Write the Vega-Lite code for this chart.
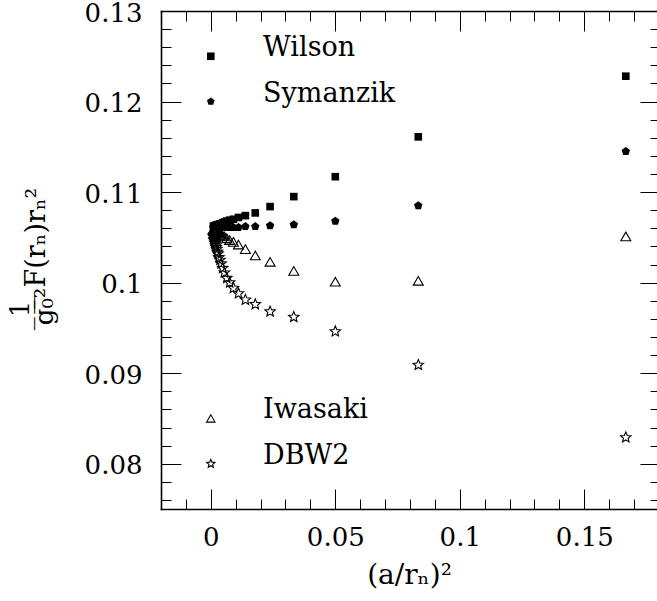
{
  "$schema": "https://vega.github.io/schema/vega-lite/v6.json",
  "width": 496,
  "height": 498,
  "autosize": "none",
  "padding": {"left": 161, "top": 11, "right": 0, "bottom": 92},
  "background": "white",
  "config": {
    "view": {"stroke": null},
    "font": "DejaVu Serif",
    "axis": {
      "grid": false,
      "domainColor": "black",
      "domainWidth": 1.6,
      "domainCap": "square",
      "tickColor": "black",
      "tickWidth": 1,
      "labelColor": "black",
      "labelFont": "DejaVu Serif",
      "labelFontSize": 26,
      "labelFlush": false,
      "labelOverlap": false,
      "labelBound": false,
      "titleColor": "black",
      "titleFont": "DejaVu Serif",
      "titleFontSize": 26,
      "titleFontWeight": "normal"
    }
  },
  "datasets": {
    "pts": [
      {"series": "Wilson", "x": 0.16667, "y": 0.1228},
      {"series": "Wilson", "x": 0.08333, "y": 0.1161},
      {"series": "Wilson", "x": 0.05, "y": 0.1117},
      {"series": "Wilson", "x": 0.03333, "y": 0.1095},
      {"series": "Wilson", "x": 0.02381, "y": 0.1084},
      {"series": "Wilson", "x": 0.01786, "y": 0.1077},
      {"series": "Wilson", "x": 0.01389, "y": 0.1074},
      {"series": "Wilson", "x": 0.01111, "y": 0.1072},
      {"series": "Wilson", "x": 0.00909, "y": 0.107},
      {"series": "Wilson", "x": 0.00758, "y": 0.1069},
      {"series": "Wilson", "x": 0.00641, "y": 0.1068},
      {"series": "Wilson", "x": 0.00549, "y": 0.1067},
      {"series": "Wilson", "x": 0.00476, "y": 0.1066},
      {"series": "Wilson", "x": 0.00417, "y": 0.1065},
      {"series": "Wilson", "x": 0.00368, "y": 0.1065},
      {"series": "Wilson", "x": 0.00327, "y": 0.1064},
      {"series": "Wilson", "x": 0.00292, "y": 0.1064},
      {"series": "Wilson", "x": 0.00263, "y": 0.1064},
      {"series": "Wilson", "x": 0.00238, "y": 0.1063},
      {"series": "Wilson", "x": 0.00216, "y": 0.1063},
      {"series": "Wilson", "x": 0.00198, "y": 0.1063},
      {"series": "Wilson", "x": 0.00181, "y": 0.1063},
      {"series": "Wilson", "x": 0.00167, "y": 0.1062},
      {"series": "Wilson", "x": 0.00154, "y": 0.1062},
      {"series": "Wilson", "x": 0.00142, "y": 0.1062},
      {"series": "Wilson", "x": 0.00132, "y": 0.1062},
      {"series": "Wilson", "x": 0.00123, "y": 0.1062},
      {"series": "Wilson", "x": 0.00115, "y": 0.1062},
      {"series": "Wilson", "x": 0.00108, "y": 0.1062},
      {"series": "Symanzik", "x": 0.16667, "y": 0.1145},
      {"series": "Symanzik", "x": 0.08333, "y": 0.1085},
      {"series": "Symanzik", "x": 0.05, "y": 0.1068},
      {"series": "Symanzik", "x": 0.03333, "y": 0.1064},
      {"series": "Symanzik", "x": 0.02381, "y": 0.1063},
      {"series": "Symanzik", "x": 0.01786, "y": 0.1062},
      {"series": "Symanzik", "x": 0.01389, "y": 0.1062},
      {"series": "Symanzik", "x": 0.01111, "y": 0.1061},
      {"series": "Symanzik", "x": 0.00909, "y": 0.1061},
      {"series": "Symanzik", "x": 0.00758, "y": 0.1061},
      {"series": "Symanzik", "x": 0.00641, "y": 0.1061},
      {"series": "Symanzik", "x": 0.00549, "y": 0.1061},
      {"series": "Symanzik", "x": 0.00476, "y": 0.1061},
      {"series": "Symanzik", "x": 0.00417, "y": 0.1061},
      {"series": "Symanzik", "x": 0.00368, "y": 0.1061},
      {"series": "Symanzik", "x": 0.00327, "y": 0.1061},
      {"series": "Symanzik", "x": 0.00292, "y": 0.1061},
      {"series": "Symanzik", "x": 0.00263, "y": 0.1061},
      {"series": "Symanzik", "x": 0.00238, "y": 0.1061},
      {"series": "Symanzik", "x": 0.00216, "y": 0.1061},
      {"series": "Symanzik", "x": 0.00198, "y": 0.1061},
      {"series": "Symanzik", "x": 0.00181, "y": 0.1061},
      {"series": "Symanzik", "x": 0.00167, "y": 0.1061},
      {"series": "Symanzik", "x": 0.00154, "y": 0.1061},
      {"series": "Symanzik", "x": 0.00142, "y": 0.1061},
      {"series": "Symanzik", "x": 0.00132, "y": 0.1061},
      {"series": "Symanzik", "x": 0.00123, "y": 0.1061},
      {"series": "Symanzik", "x": 0.00115, "y": 0.1061},
      {"series": "Symanzik", "x": 0.00108, "y": 0.1061},
      {"series": "Iwasaki", "x": 0.16667, "y": 0.1051},
      {"series": "Iwasaki", "x": 0.08333, "y": 0.1002},
      {"series": "Iwasaki", "x": 0.05, "y": 0.1001},
      {"series": "Iwasaki", "x": 0.03333, "y": 0.1013},
      {"series": "Iwasaki", "x": 0.02381, "y": 0.1023},
      {"series": "Iwasaki", "x": 0.01786, "y": 0.103},
      {"series": "Iwasaki", "x": 0.01389, "y": 0.1037},
      {"series": "Iwasaki", "x": 0.01111, "y": 0.1042},
      {"series": "Iwasaki", "x": 0.00909, "y": 0.1045},
      {"series": "Iwasaki", "x": 0.00758, "y": 0.1047},
      {"series": "Iwasaki", "x": 0.00641, "y": 0.1049},
      {"series": "Iwasaki", "x": 0.00549, "y": 0.1051},
      {"series": "Iwasaki", "x": 0.00476, "y": 0.1052},
      {"series": "Iwasaki", "x": 0.00417, "y": 0.1053},
      {"series": "Iwasaki", "x": 0.00368, "y": 0.1054},
      {"series": "Iwasaki", "x": 0.00327, "y": 0.1055},
      {"series": "Iwasaki", "x": 0.00292, "y": 0.1055},
      {"series": "Iwasaki", "x": 0.00263, "y": 0.1056},
      {"series": "Iwasaki", "x": 0.00238, "y": 0.1056},
      {"series": "Iwasaki", "x": 0.00216, "y": 0.1057},
      {"series": "Iwasaki", "x": 0.00198, "y": 0.1057},
      {"series": "Iwasaki", "x": 0.00181, "y": 0.1058},
      {"series": "Iwasaki", "x": 0.00167, "y": 0.1058},
      {"series": "Iwasaki", "x": 0.00154, "y": 0.1058},
      {"series": "Iwasaki", "x": 0.00142, "y": 0.1058},
      {"series": "Iwasaki", "x": 0.00132, "y": 0.1059},
      {"series": "Iwasaki", "x": 0.00123, "y": 0.1059},
      {"series": "Iwasaki", "x": 0.00115, "y": 0.1059},
      {"series": "Iwasaki", "x": 0.00108, "y": 0.1059},
      {"series": "DBW2", "x": 0.16667, "y": 0.0829},
      {"series": "DBW2", "x": 0.08333, "y": 0.0909},
      {"series": "DBW2", "x": 0.05, "y": 0.0946},
      {"series": "DBW2", "x": 0.03333, "y": 0.0962},
      {"series": "DBW2", "x": 0.02381, "y": 0.0968},
      {"series": "DBW2", "x": 0.01786, "y": 0.0976},
      {"series": "DBW2", "x": 0.01389, "y": 0.0981},
      {"series": "DBW2", "x": 0.01111, "y": 0.0988},
      {"series": "DBW2", "x": 0.00909, "y": 0.0994},
      {"series": "DBW2", "x": 0.00758, "y": 0.1},
      {"series": "DBW2", "x": 0.00641, "y": 0.1005},
      {"series": "DBW2", "x": 0.00549, "y": 0.1011},
      {"series": "DBW2", "x": 0.00476, "y": 0.1016},
      {"series": "DBW2", "x": 0.00417, "y": 0.1021},
      {"series": "DBW2", "x": 0.00368, "y": 0.1025},
      {"series": "DBW2", "x": 0.00327, "y": 0.1028},
      {"series": "DBW2", "x": 0.00292, "y": 0.1032},
      {"series": "DBW2", "x": 0.00263, "y": 0.1034},
      {"series": "DBW2", "x": 0.00238, "y": 0.1037},
      {"series": "DBW2", "x": 0.00216, "y": 0.1039},
      {"series": "DBW2", "x": 0.00198, "y": 0.1041},
      {"series": "DBW2", "x": 0.00181, "y": 0.1043},
      {"series": "DBW2", "x": 0.00167, "y": 0.1044},
      {"series": "DBW2", "x": 0.00154, "y": 0.1046},
      {"series": "DBW2", "x": 0.00142, "y": 0.1047},
      {"series": "DBW2", "x": 0.00132, "y": 0.1048},
      {"series": "DBW2", "x": 0.00123, "y": 0.105},
      {"series": "DBW2", "x": 0.00115, "y": 0.1051},
      {"series": "DBW2", "x": 0.00108, "y": 0.1052}
    ],
    "key": [
      {"series": "Wilson", "x": 0, "y": 0.125, "labelX": 0.021},
      {"series": "Symanzik", "x": 0, "y": 0.12, "labelX": 0.021},
      {"series": "Iwasaki", "x": 0, "y": 0.085, "labelX": 0.021},
      {"series": "DBW2", "x": 0, "y": 0.08, "labelX": 0.021}
    ]
  },
  "resolve": {
    "axis": {"x": "independent", "y": "independent"},
    "scale": {"size": "independent"}
  },
  "layer": [
    {
      "data": {"name": "pts"},
      "transform": [{"filter": "datum.series === 'Wilson' || datum.series === 'Symanzik'"}],
      "mark": {"type": "point", "filled": true, "color": "black", "opacity": 1},
      "encoding": {
        "x": {
          "field": "x", "type": "quantitative",
          "scale": {"domain": [-0.02, 0.1792], "nice": false, "zero": false},
          "axis": {"orient": "bottom", "values": [0, 0.05, 0.1, 0.15], "format": "~g", "tickSize": -20, "labelPadding": 35, "title": "(a/rₙ)²", "titleFontSize": 28, "titlePadding": 11}
        },
        "y": {
          "field": "y", "type": "quantitative",
          "scale": {"domain": [0.075, 0.13], "nice": false, "zero": false},
          "axis": {"orient": "left", "values": [0.08, 0.09, 0.1, 0.11, 0.12, 0.13], "format": "~g", "tickSize": -20, "labelPadding": 39, "labelOffset": 2, "title": "F(rₙ)rₙ²", "titleFontSize": 27, "titleAngle": -90, "titleAlign": "center", "titleBaseline": "alphabetic", "titleX": -117, "titleY": 226}
        },
        "shape": {
          "field": "series", "type": "nominal", "legend": null,
          "scale": {
            "domain": ["Wilson", "Symanzik", "Iwasaki", "DBW2"],
            "range": ["square", "M0,-1L0.951,-0.309L0.588,0.809L-0.588,0.809L-0.951,-0.309Z", "triangle-up", "M0,-1L0.265,-0.364L0.951,-0.309L0.428,0.139L0.588,0.809L0,0.45L-0.588,0.809L-0.428,0.139L-0.951,-0.309L-0.265,-0.364Z"]
          }
        },
        "size": {
          "field": "series", "type": "ordinal", "legend": null,
          "scale": {"domain": ["Wilson", "Symanzik", "Iwasaki", "DBW2"], "range": [58, 120, 95, 120]}
        }
      }
    },
    {
      "data": {"name": "pts"},
      "transform": [{"filter": "datum.series === 'Iwasaki' || datum.series === 'DBW2'"}],
      "mark": {"type": "point", "filled": false, "color": "black", "strokeWidth": 1.1, "opacity": 1},
      "encoding": {
        "x": {
          "field": "x", "type": "quantitative",
          "scale": {"domain": [-0.02, 0.1792], "nice": false, "zero": false},
          "axis": {"orient": "bottom", "values": [-0.01, 0.01, 0.02, 0.03, 0.04, 0.06, 0.07, 0.08, 0.09, 0.11, 0.12, 0.13, 0.14, 0.16, 0.17], "tickSize": -10, "labels": false, "domain": false, "title": null}
        },
        "y": {
          "field": "y", "type": "quantitative",
          "scale": {"domain": [0.075, 0.13], "nice": false, "zero": false},
          "axis": {"orient": "left", "values": [0.076, 0.078, 0.082, 0.084, 0.086, 0.088, 0.092, 0.094, 0.096, 0.098, 0.102, 0.104, 0.106, 0.108, 0.112, 0.114, 0.116, 0.118, 0.122, 0.124, 0.126, 0.128], "tickSize": -10, "labels": false, "domain": false, "title": ["\u2009\u03321\u0332\u2009\u0332", "g₀²"], "titleAngle": -90, "titleAlign": "center", "titleBaseline": "alphabetic", "titleLineHeight": 24, "titleX": -133, "titleY": 295}
        },
        "shape": {
          "field": "series", "type": "nominal", "legend": null,
          "scale": {
            "domain": ["Wilson", "Symanzik", "Iwasaki", "DBW2"],
            "range": ["square", "M0,-1L0.951,-0.309L0.588,0.809L-0.588,0.809L-0.951,-0.309Z", "triangle-up", "M0,-1L0.265,-0.364L0.951,-0.309L0.428,0.139L0.588,0.809L0,0.45L-0.588,0.809L-0.428,0.139L-0.951,-0.309L-0.265,-0.364Z"]
          }
        },
        "size": {
          "field": "series", "type": "ordinal", "legend": null,
          "scale": {"domain": ["Wilson", "Symanzik", "Iwasaki", "DBW2"], "range": [58, 120, 95, 120]}
        }
      }
    },
    {
      "data": {"name": "key"},
      "transform": [{"filter": "datum.series === 'Wilson' || datum.series === 'Symanzik'"}],
      "mark": {"type": "point", "filled": true, "color": "black", "opacity": 1},
      "encoding": {
        "x": {
          "field": "x", "type": "quantitative",
          "scale": {"domain": [-0.02, 0.1792], "nice": false, "zero": false},
          "axis": {"orient": "top", "values": [0, 0.05, 0.1, 0.15], "tickSize": -20, "labels": false, "domain": true, "title": null}
        },
        "y": {
          "field": "y", "type": "quantitative",
          "scale": {"domain": [0.075, 0.13], "nice": false, "zero": false},
          "axis": {"orient": "right", "offset": 3, "values": [0.08, 0.09, 0.1, 0.11, 0.12, 0.13], "tickSize": -20, "labels": false, "domain": false, "title": null}
        },
        "shape": {
          "field": "series", "type": "nominal", "legend": null,
          "scale": {
            "domain": ["Wilson", "Symanzik", "Iwasaki", "DBW2"],
            "range": ["square", "M0,-1L0.951,-0.309L0.588,0.809L-0.588,0.809L-0.951,-0.309Z", "triangle-up", "M0,-1L0.265,-0.364L0.951,-0.309L0.428,0.139L0.588,0.809L0,0.45L-0.588,0.809L-0.428,0.139L-0.951,-0.309L-0.265,-0.364Z"]
          }
        },
        "size": {
          "field": "series", "type": "ordinal", "legend": null,
          "scale": {"domain": ["Wilson", "Symanzik", "Iwasaki", "DBW2"], "range": [58, 76, 86, 71]}
        }
      }
    },
    {
      "data": {"name": "key"},
      "transform": [{"filter": "datum.series === 'Iwasaki' || datum.series === 'DBW2'"}],
      "mark": {"type": "point", "filled": false, "color": "black", "strokeWidth": 1.1, "opacity": 1},
      "encoding": {
        "x": {
          "field": "x", "type": "quantitative",
          "scale": {"domain": [-0.02, 0.1792], "nice": false, "zero": false},
          "axis": {"orient": "top", "values": [-0.01, 0.01, 0.02, 0.03, 0.04, 0.06, 0.07, 0.08, 0.09, 0.11, 0.12, 0.13, 0.14, 0.16, 0.17], "tickSize": -10, "labels": false, "domain": false, "title": null}
        },
        "y": {
          "field": "y", "type": "quantitative",
          "scale": {"domain": [0.075, 0.13], "nice": false, "zero": false},
          "axis": {"orient": "right", "offset": 3, "values": [0.076, 0.078, 0.082, 0.084, 0.086, 0.088, 0.092, 0.094, 0.096, 0.098, 0.102, 0.104, 0.106, 0.108, 0.112, 0.114, 0.116, 0.118, 0.122, 0.124, 0.126, 0.128], "tickSize": -10, "labels": false, "domain": false, "title": null}
        },
        "shape": {
          "field": "series", "type": "nominal", "legend": null,
          "scale": {
            "domain": ["Wilson", "Symanzik", "Iwasaki", "DBW2"],
            "range": ["square", "M0,-1L0.951,-0.309L0.588,0.809L-0.588,0.809L-0.951,-0.309Z", "triangle-up", "M0,-1L0.265,-0.364L0.951,-0.309L0.428,0.139L0.588,0.809L0,0.45L-0.588,0.809L-0.428,0.139L-0.951,-0.309L-0.265,-0.364Z"]
          }
        },
        "size": {
          "field": "series", "type": "ordinal", "legend": null,
          "scale": {"domain": ["Wilson", "Symanzik", "Iwasaki", "DBW2"], "range": [58, 76, 86, 71]}
        }
      }
    },
    {
      "data": {"name": "key"},
      "mark": {"type": "text", "align": "left", "baseline": "alphabetic", "font": "DejaVu Serif", "fontSize": 27, "color": "black"},
      "encoding": {
        "x": {"field": "labelX", "type": "quantitative", "scale": {"domain": [-0.02, 0.1792], "nice": false, "zero": false}, "axis": null},
        "y": {"field": "y", "type": "quantitative", "scale": {"domain": [0.075, 0.13], "nice": false, "zero": false}, "axis": null},
        "text": {"field": "series", "type": "nominal"}
      }
    }
  ]
}
